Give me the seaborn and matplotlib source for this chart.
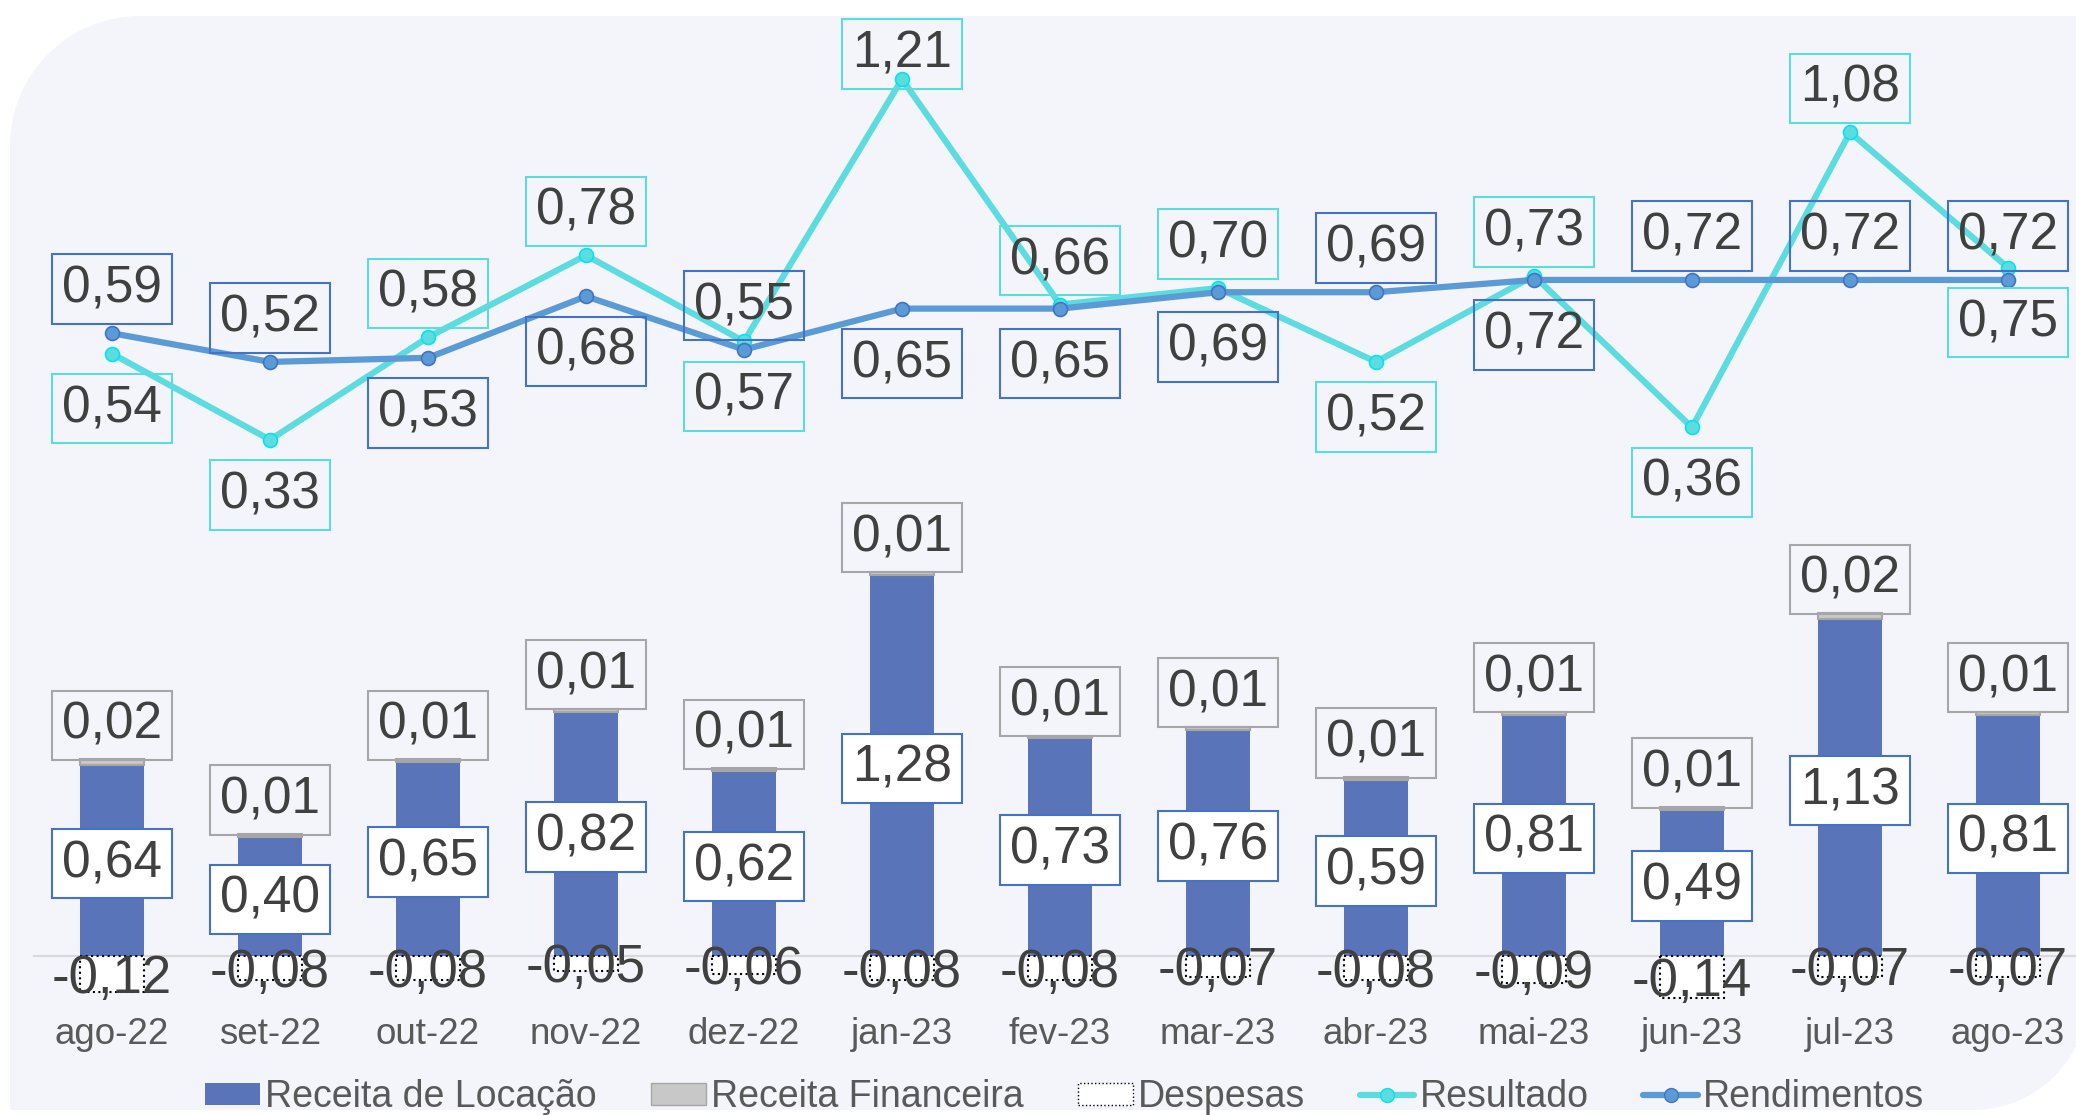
import numpy as np
import matplotlib
matplotlib.use('Agg')
import matplotlib.pyplot as plt
import seaborn as sns
from matplotlib.patches import Patch, PathPatch
from matplotlib.lines import Line2D
from matplotlib.path import Path

# =============================================================================
# data
# =============================================================================
months = ['ago-22', 'set-22', 'out-22', 'nov-22', 'dez-22', 'jan-23', 'fev-23',
          'mar-23', 'abr-23', 'mai-23', 'jun-23', 'jul-23', 'ago-23']
receita_locacao = [0.64, 0.40, 0.65, 0.82, 0.62, 1.28, 0.73, 0.76, 0.59, 0.81, 0.49, 1.13, 0.81]
receita_financeira = [0.02, 0.01, 0.01, 0.01, 0.01, 0.01, 0.01, 0.01, 0.01, 0.01, 0.01, 0.02, 0.01]
despesas = [-0.12, -0.08, -0.08, -0.05, -0.06, -0.08, -0.08, -0.07, -0.08, -0.09, -0.14, -0.07, -0.07]
resultado = [0.54, 0.33, 0.58, 0.78, 0.57, 1.21, 0.66, 0.70, 0.52, 0.73, 0.36, 1.08, 0.75]
rendimentos = [0.59, 0.52, 0.53, 0.68, 0.55, 0.65, 0.65, 0.69, 0.69, 0.72, 0.72, 0.72, 0.72]

# label above (+1) or below (-1) the point
res_side = [-1, -1, 1, 1, -1, 1, 1, 1, -1, 1, -1, 1, -1]
rend_side = [1, 1, -1, -1, 1, -1, -1, -1, 1, -1, 1, 1, 1]

blue_bar = '#5A74BA'
gray_bar = '#C8C8C8'
cyan = '#5DDCE0'
blue_line = '#5B9BD5'
text_col = '#404040'
tick_col = '#595959'

sns.set_theme(style='white')
plt.rcParams['font.family'] = ['Liberation Sans', 'DejaVu Sans']

W, H = 2076, 1115
fig = plt.figure(figsize=(W / 100, H / 100), dpi=100)
fig.patch.set_facecolor('white')

# rounded lavender background (top-left and bottom-right corners rounded)
L, R, T, B = 10 / W, 2088 / W, 1 - 16 / H, 1 - 1110 / H
r1x, r1y = 130 / W, 130 / H
r2x, r2y = 115 / W, 115 / H
k = 0.5523
verts = [(L, B), (R - r2x, B),
         (R - r2x + k * r2x, B), (R, B + r2y - k * r2y), (R, B + r2y),
         (R, T), (L + r1x, T),
         (L + r1x - k * r1x, T), (L, T - r1y + k * r1y), (L, T - r1y),
         (L, B)]
codes = [Path.MOVETO, Path.LINETO,
         Path.CURVE4, Path.CURVE4, Path.CURVE4,
         Path.LINETO, Path.LINETO,
         Path.CURVE4, Path.CURVE4, Path.CURVE4,
         Path.CLOSEPOLY]
fig.patches.append(PathPatch(Path(verts, codes), transform=fig.transFigure,
                             facecolor='#F4F5FB', edgecolor='none', zorder=-5))

ax = fig.add_axes([33 / W, 1 - 1003 / H, 2054 / W, 960 / H])
ax.set_facecolor('none')
x = np.arange(len(months))

# =============================================================================
# bars
# =============================================================================
ax.axhline(0, color='#D9D9D9', lw=1.5, zorder=1)
sns.barplot(x=months, y=receita_locacao, color=blue_bar, saturation=1, width=0.4,
            linewidth=0, errorbar=None, ax=ax, zorder=2)
ax.bar(x, receita_financeira, bottom=receita_locacao, width=0.4, color=gray_bar,
       edgecolor='#A6A6A6', linewidth=1.5, zorder=2)
sns.barplot(x=months, y=despesas, color='white', saturation=1, width=0.4,
            edgecolor='black', linestyle=':', linewidth=1.5, errorbar=None, ax=ax, zorder=2)

ax.set_ylim(-0.1577, 3.064)
ax.set_xlim(-0.5, len(months) - 0.5)
ax.set_yticks([])
ax.set_xlabel('')
ax.set_ylabel('')
ax.tick_params(axis='x', length=0, labelsize=26.5, labelcolor=tick_col, pad=10)
for s in ax.spines.values():
    s.set_visible(False)

# =============================================================================
# lines (secondary axis)
# =============================================================================
ax2 = ax.twinx()
sns.lineplot(x=x, y=resultado, ax=ax2, color=cyan, lw=4.5, marker='o', markersize=10,
             markerfacecolor=cyan, markeredgecolor='#00E5EE', markeredgewidth=1.2)
sns.lineplot(x=x, y=rendimentos, ax=ax2, color=blue_line, lw=4.5, marker='o', markersize=10,
             markerfacecolor=blue_line, markeredgecolor='#4472C4', markeredgewidth=1.2)
ax2.set_ylim(-1.044, 1.298)
ax2.set_xlim(-0.5, len(months) - 0.5)
ax2.set_yticks([])
ax2.set_ylabel('')
for s in ax2.spines.values():
    s.set_visible(False)


def fmt(v):
    return f'{v:.2f}'.replace('.', ',')


def box(edge, face='none'):
    return dict(boxstyle='square,pad=0.2', fc=face, ec=edge, lw=1.5)


px = 72 / fig.dpi
top_limit = H - 54

for i in range(len(months)):
    for vals, side, ec in ((resultado, res_side, '#5DDCE0'), (rendimentos, rend_side, '#4472C4')):
        v = vals[i]
        off = 44 if side[i] > 0 else -55
        yd = ax2.transData.transform((i, v))[1]
        if side[i] > 0:
            off = min(off, top_limit - yd)
        ax2.annotate(fmt(v), xy=(i, v), xytext=(0, off * px), textcoords='offset points',
                     ha='center', va='center', fontsize=37, color=text_col,
                     bbox=box(ec), annotation_clip=False, zorder=5)

    loc = receita_locacao[i]
    ax.annotate(fmt(loc), xy=(i, loc / 2), xytext=(0, -3 * px), textcoords='offset points',
                ha='center', va='center', fontsize=37, color=text_col,
                bbox=box('#4472C4', 'white'), zorder=5)
    fin = receita_financeira[i]
    ax.annotate(fmt(fin), xy=(i, loc + fin), xytext=(0, 34 * px), textcoords='offset points',
                ha='center', va='center', fontsize=37, color=text_col,
                bbox=box('#A6A6A6'), zorder=5)
    d = despesas[i]
    ax.annotate(fmt(d), xy=(i, d / 2), xytext=(0, -5 * px), textcoords='offset points',
                ha='center', va='center', fontsize=38, color=text_col, zorder=5)

# =============================================================================
# legend
# =============================================================================
handles = [Patch(fc=blue_bar, ec='none'),
           Patch(fc=gray_bar, ec='#A6A6A6'),
           Patch(fc='white', ec='black', ls=':'),
           Line2D([], [], color=cyan, lw=4.5, marker='o', ms=10, mfc=cyan, mec='#00E5EE'),
           Line2D([], [], color=blue_line, lw=4.5, marker='o', ms=10, mfc=blue_line, mec='#4472C4')]
labels = ['Receita de Locação', 'Receita Financeira', 'Despesas', 'Resultado', 'Rendimentos']
fig.legend(handles, labels, loc='center', bbox_to_anchor=(0.513, 0.016), ncol=5,
           frameon=False, fontsize=27, handlelength=1.45, handleheight=0.5,
           handletextpad=0.15, columnspacing=1.45, labelcolor=tick_col)

fig.savefig('out.png', dpi=100)
